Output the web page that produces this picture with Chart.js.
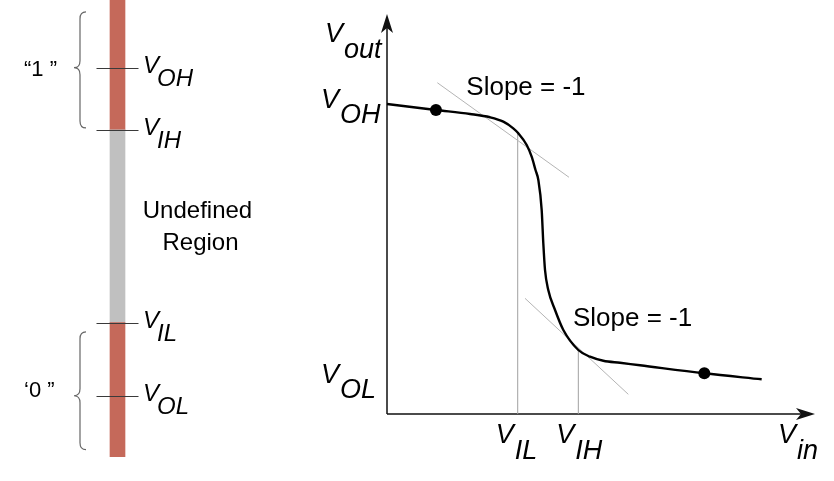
<!DOCTYPE html>
<html><head><meta charset="utf-8">
<script src="https://cdn.jsdelivr.net/npm/chart.js@4/dist/chart.umd.min.js"></script>
<style>
html,body{margin:0;padding:0;background:#fff;}
#wrap{position:relative;width:834px;height:481px;overflow:hidden;background:#fff;}
</style></head><body>
<div id="wrap">
<div style="position:absolute;left:0;top:0;width:300px;height:481px"><canvas id="left" width="300" height="481"></canvas></div>
<div style="position:absolute;left:300px;top:0;width:534px;height:481px"><canvas id="right" width="534" height="481"></canvas></div>
</div>
<script>
// ---------- Left: logic-level bar ----------
const levelNames  = ['OL', 'IL', 'IH', 'OH'];
const levelValues = [0.67, 1.47, 3.58, 4.26];   // volts
const barMax = 5;
const braceLabels = ['“1 ”', '‘0 ”'];
const braceRanges = [[3.60, 4.87], [0.08, 1.37]];
const braceTips   = [4.26, 0.67];
const regionLabel = ['Undefined', 'Region'];

// ---------- Right: voltage transfer characteristic ----------
const vin  = [0, 0.572, 0.970, 1.203, 1.359, 1.475, 1.534, 1.632, 1.690, 1.735, 1.768, 1.807, 1.826, 1.846, 1.884, 1.963, 2.060, 2.235, 2.371, 2.527, 2.722, 2.956, 3.707, 4.377];
const vout = [3.875, 3.80, 3.75, 3.709, 3.654, 3.571, 3.509, 3.363, 3.216, 3.05, 2.925, 2.55, 2.134, 1.80, 1.55, 1.30, 1.05, 0.80, 0.716, 0.666, 0.64, 0.609, 0.509, 0.434];
const dotVin  = [0.572, 3.707];
const dotVout = [3.80, 0.509];
const tangentUpperVin  = [0.588, 2.126];
const tangentUpperVout = [4.141, 2.959];
const tangentLowerVin  = [1.612, 2.819];
const tangentLowerVout = [1.446, 0.246];
const xTickNames  = ['IL', 'IH'];
const xTickValues = [1.527, 2.235];
const xGuideTops  = [3.52, 0.80];
const yTickNames  = ['OH', 'OL'];
const yTickValues = [3.875, 0.434];
const axisNames   = ['out', 'in'];
const slopeText   = 'Slope = -1';
const axisMax = 5;

const RED = '#c5695a', GRAY = '#c0c0c0';
const FONT = '"Liberation Sans", Arial, sans-serif';

function drawV(ctx, x, y, sub, size, dx, dy) {
  ctx.font = 'italic ' + size + 'px ' + FONT;
  ctx.fillStyle = '#000';
  ctx.textAlign = 'left';
  ctx.textBaseline = 'alphabetic';
  ctx.fillText('V', x, y);
  ctx.fillText(sub, x + dx, y + dy);
}

const leftPlugin = {
  id: 'leftDeco',
  afterDatasetsDraw(chart) {
    const ctx = chart.ctx, ys = chart.scales.y, xs = chart.scales.x;
    const c = xs.getPixelForValue(0);
    ctx.save();
    levelValues.forEach((v, i) => {
      const y = Math.round(ys.getPixelForValue(v)) + 0.5;
      ctx.strokeStyle = '#3a3a3a'; ctx.lineWidth = 1;
      ctx.beginPath(); ctx.moveTo(c - 21, y); ctx.lineTo(c + 21, y); ctx.stroke();
      drawV(ctx, c + 25.5, y + 4, levelNames[i], 24, 14, 13.5);
    });
    const mid = (ys.getPixelForValue(levelValues[1]) + ys.getPixelForValue(levelValues[2])) / 2;
    ctx.font = '24px ' + FONT; ctx.fillStyle = '#000'; ctx.textAlign = 'center'; ctx.textBaseline = 'alphabetic';
    ctx.fillText(regionLabel[0], c + 80, mid - 8);
    ctx.fillText(regionLabel[1], c + 83, mid + 24);
    braceRanges.forEach((r, i) => {
      const top = ys.getPixelForValue(r[1]), bot = ys.getPixelForValue(r[0]);
      const tip = ys.getPixelForValue(braceTips[i]);
      const sx = c - 37.5, ex = c - 31.5, tx = c - 43.5;
      ctx.strokeStyle = '#666'; ctx.lineWidth = 1.2;
      ctx.beginPath();
      ctx.moveTo(ex, top);
      ctx.quadraticCurveTo(sx, top, sx, top + 7);
      ctx.lineTo(sx, tip - 7);
      ctx.quadraticCurveTo(sx, tip, tx, tip);
      ctx.quadraticCurveTo(sx, tip, sx, tip + 7);
      ctx.lineTo(sx, bot - 7);
      ctx.quadraticCurveTo(sx, bot, ex, bot);
      ctx.stroke();
      ctx.font = '22px ' + FONT; ctx.fillStyle = '#000'; ctx.textAlign = 'left'; ctx.textBaseline = 'middle';
      ctx.fillText(braceLabels[i], 24, (top + bot) / 2);
    });
    ctx.restore();
  }
};

new Chart(document.getElementById('left'), {
  type: 'bar',
  data: {
    labels: [''],
    datasets: [
      { data: [[0, levelValues[1]]], backgroundColor: RED },
      { data: [[levelValues[1], levelValues[2]]], backgroundColor: GRAY },
      { data: [[levelValues[2], barMax]], backgroundColor: RED }
    ]
  },
  options: {
    responsive: false, animation: false, devicePixelRatio: 1,
    datasets: { bar: { barThickness: 15, grouped: false, borderWidth: 0 } },
    layout: { padding: { left: 0, right: 65, top: 0, bottom: 24 } },
    plugins: { legend: { display: false }, tooltip: { enabled: false } },
    scales: {
      x: { display: false },
      y: { display: false, min: 0, max: barMax }
    }
  },
  plugins: [leftPlugin]
});

function arrowHead(ctx, tx, ty, ux, uy) {
  const L = 19, W = 6, N = 14;
  const px = -uy, py = ux;
  ctx.beginPath();
  ctx.moveTo(tx, ty);
  ctx.lineTo(tx - ux * L + px * W, ty - uy * L + py * W);
  ctx.lineTo(tx - ux * N, ty - uy * N);
  ctx.lineTo(tx - ux * L - px * W, ty - uy * L - py * W);
  ctx.closePath();
  ctx.fill();
}

const rightPlugin = {
  id: 'rightDeco',
  beforeDatasetsDraw(chart) {
    const ctx = chart.ctx, a = chart.chartArea;
    ctx.save();
    ctx.strokeStyle = '#111'; ctx.fillStyle = '#111'; ctx.lineWidth = 1.5;
    ctx.beginPath();
    ctx.moveTo(a.left, a.bottom); ctx.lineTo(a.right - 10, a.bottom);
    ctx.moveTo(a.left, a.bottom); ctx.lineTo(a.left, a.top + 10);
    ctx.stroke();
    arrowHead(ctx, a.right, a.bottom, 1, 0);
    arrowHead(ctx, a.left, a.top, 0, -1);
    ctx.restore();
  },
  afterDraw(chart) {
    const ctx = chart.ctx, a = chart.chartArea, xs = chart.scales.x, ys = chart.scales.y;
    ctx.save();
    const S = 27, DX = 19, DY = 15.5;
    drawV(ctx, a.left - 62, a.top + 28, axisNames[0], S, DX, DY);
    drawV(ctx, a.right - 37, a.bottom + 29, axisNames[1], S, DX, DY);
    xTickValues.forEach((v, i) => {
      const x = xs.getPixelForValue(v);
      drawV(ctx, x - 22, a.bottom + 29, xTickNames[i], S, DX, DY);
    });
    yTickValues.forEach((v, i) => {
      const y = ys.getPixelForValue(v);
      drawV(ctx, a.left - 66, y + 3.5, yTickNames[i], S, DX, DY);
    });
    ctx.font = '26px ' + FONT; ctx.fillStyle = '#000'; ctx.textAlign = 'left'; ctx.textBaseline = 'alphabetic';
    const ux = xs.getPixelForValue(tangentUpperVin[0]), uy = ys.getPixelForValue(tangentUpperVout[0]);
    ctx.fillText(slopeText, ux + 29, uy + 12);
    const lx = xs.getPixelForValue(tangentLowerVin[0]), ly = ys.getPixelForValue(tangentLowerVout[0]);
    ctx.fillText(slopeText, lx + 48, ly + 28);
    ctx.restore();
  }
};

const pts = (xa, ya) => xa.map((x, i) => ({ x, y: ya[i] }));

new Chart(document.getElementById('right'), {
  type: 'scatter',
  data: {
    datasets: [
      { data: pts(dotVin, dotVout), pointRadius: 6, pointBackgroundColor: '#000', pointBorderWidth: 0, showLine: false },
      { data: pts(vin, vout), showLine: true, borderColor: '#000', borderWidth: 2.4, cubicInterpolationMode: 'monotone', pointRadius: 0 },
      { data: pts(tangentUpperVin, tangentUpperVout), showLine: true, borderColor: '#b4b4b4', borderWidth: 1, pointRadius: 0 },
      { data: pts(tangentLowerVin, tangentLowerVout), showLine: true, borderColor: '#b4b4b4', borderWidth: 1, pointRadius: 0 },
      { data: [{ x: xTickValues[0], y: 0 }, { x: xTickValues[0], y: xGuideTops[0] }], showLine: true, borderColor: '#a0a0a0', borderWidth: 1, pointRadius: 0 },
      { data: [{ x: xTickValues[1], y: 0 }, { x: xTickValues[1], y: xGuideTops[1] }], showLine: true, borderColor: '#a0a0a0', borderWidth: 1, pointRadius: 0 }
    ]
  },
  options: {
    responsive: false, animation: false, devicePixelRatio: 1,
    clip: false,
    layout: { padding: { left: 87, right: 19, top: 14, bottom: 67 } },
    plugins: { legend: { display: false }, tooltip: { enabled: false } },
    scales: {
      x: { type: 'linear', display: false, min: 0, max: axisMax },
      y: { type: 'linear', display: false, min: 0, max: axisMax }
    }
  },
  plugins: [rightPlugin]
});
</script>
</body></html>
